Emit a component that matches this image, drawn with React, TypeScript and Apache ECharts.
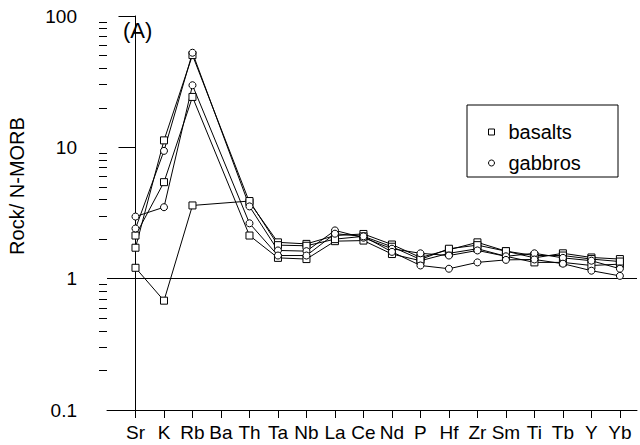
import React, { useEffect, useRef } from "react";
import * as echarts from "echarts";

// Trace elements along the spider diagram's x axis
const elements = ["Sr", "K", "Rb", "Ba", "Th", "Ta", "Nb", "La", "Ce", "Nd", "P", "Hf", "Zr", "Sm", "Ti", "Tb", "Y", "Yb"];

// Rock / N-MORB ratios (Ba not analysed -> null)
const basaltA = [1.72, 11.3, 50.4, null, 3.82, 1.89, 1.84, 2.13, 2.19, 1.82, 1.45, 1.66, 1.89, 1.62, 1.44, 1.56, 1.45, 1.41];
const basaltB = [2.13, 5.43, 24.2, null, 2.13, 1.44, 1.41, 1.93, 1.95, 1.54, 1.37, 1.56, 1.69, 1.48, 1.33, 1.33, 1.26, 1.29];
const basaltC = [1.21, 0.68, 3.61, null, 3.9, 1.8, 1.78, 2.0, 2.1, 1.75, 1.4, 1.69, 1.8, 1.62, 1.5, 1.5, 1.41, 1.35];
const gabbroA = [2.41, 9.4, 52.5, null, 3.55, 1.64, 1.62, 2.33, 2.05, 1.69, 1.56, 1.5, 1.64, 1.48, 1.56, 1.44, 1.37, 1.19];
const gabbroB = [2.97, 3.5, 29.7, null, 2.64, 1.5, 1.5, 2.2, 2.1, 1.6, 1.26, 1.19, 1.33, 1.39, 1.4, 1.3, 1.15, 1.05];

const majorTicks = [0.1, 1, 10, 100];
const minorTicks = [0.2, 0.3, 0.4, 0.5, 0.6, 0.7, 0.8, 0.9, 2, 3, 4, 5, 6, 7, 8, 9, 20, 30, 40, 50, 60, 70, 80, 90];
const elementIndices = [0, 1, 2, 3, 4, 5, 6, 7, 8, 9, 10, 11, 12, 13, 14, 15, 16, 17];

const FONT = "'Liberation Sans', Arial, Helvetica, sans-serif";

function toPoints(values: (number | null)[]) {
  const pts: [number, number][] = [];
  values.forEach((v, i) => {
    if (v != null) pts.push([i, v]);
  });
  return pts;
}

function makeSeries(name: string, values: (number | null)[], symbol: string, withRefLine = false): any {
  const s: any = {
    type: "line",
    name,
    data: toPoints(values),
    symbol,
    symbolSize: 7,
    showAllSymbol: true,
    lineStyle: { color: "#000", width: 1 },
    itemStyle: { color: "#fff", borderColor: "#000", borderWidth: 1 },
    emphasis: { disabled: true },
    z: 3,
  };
  if (withRefLine) {
    s.markLine = {
      silent: true,
      symbol: ["none", "none"],
      label: { show: false },
      lineStyle: { color: "#000", width: 1, type: "solid" },
      data: [{ yAxis: 1 }],
      z: 1,
    };
  }
  return s;
}

export default function App() {
  const ref = useRef<HTMLDivElement>(null);

  useEffect(() => {
    if (!ref.current) return;
    const chart = echarts.init(ref.current, undefined, { renderer: "svg" });
    chart.setOption({
      animation: false,
      backgroundColor: "#fff",
      grid: { left: 107, right: 3, top: 16, bottom: 35, containLabel: false },
      xAxis: {
        type: "value",
        min: -1,
        max: 17.6,
        interval: 1,
        axisLine: { show: true, lineStyle: { color: "#000", width: 1 } },
        axisTick: { show: true, inside: false, length: 8, customValues: elementIndices, lineStyle: { color: "#000" } },
        axisLabel: {
          customValues: elementIndices,
          formatter: (v: number) => elements[Math.round(v)] ?? "",
          color: "#000",
          fontSize: 19,
          fontFamily: FONT,
          margin: 13,
        },
        splitLine: { show: false },
      },
      yAxis: [
        {
          type: "log",
          logBase: 10,
          min: 0.1,
          max: 100,
          axisLine: { show: true, lineStyle: { color: "#000", width: 1 } },
          axisTick: { show: true, inside: false, length: 17, customValues: majorTicks, lineStyle: { color: "#000" } },
          axisLabel: {
            customValues: majorTicks,
            formatter: (v: number) => String(v),
            color: "#000",
            fontSize: 19,
            fontFamily: FONT,
            margin: 30,
          },
          splitLine: { show: false },
        },
        {
          type: "log",
          logBase: 10,
          min: 0.1,
          max: 100,
          position: "left",
          axisLine: { show: false },
          axisTick: { show: true, inside: false, length: 8, customValues: minorTicks, lineStyle: { color: "#000" } },
          axisLabel: { show: false },
          splitLine: { show: false },
        },
      ],
      legend: {
        orient: "vertical",
        left: 483,
        top: 117,
        itemWidth: 6,
        itemHeight: 6,
        itemGap: 11,
        selectedMode: false,
        data: [
          { name: "basalts", icon: "rect" },
          { name: "gabbros", icon: "circle" },
        ],
        itemStyle: { color: "#fff", borderColor: "#000", borderWidth: 1 },
        textStyle: { color: "#000", fontSize: 20, fontFamily: FONT, padding: [0, 0, 0, 9] },
      },
      graphic: [
        {
          type: "rect",
          shape: { x: 467, y: 105, width: 151, height: 72 },
          style: { fill: "none", stroke: "#000", lineWidth: 1 },
        },
        {
          type: "text",
          x: 123,
          y: 19,
          style: { text: "(A)", fontSize: 22, fontFamily: FONT, fill: "#000" },
        },
        {
          type: "text",
          x: 17,
          y: 186,
          rotation: Math.PI / 2,
          style: {
            text: "Rock/ N-MORB",
            fontSize: 20,
            fontFamily: FONT,
            fill: "#000",
            align: "center",
            verticalAlign: "middle",
          },
        },
      ],
      series: [
        makeSeries("basalts", basaltA, "rect", true),
        makeSeries("basalts", basaltB, "rect"),
        makeSeries("basalts", basaltC, "rect"),
        makeSeries("gabbros", gabbroA, "circle"),
        makeSeries("gabbros", gabbroB, "circle"),
      ],
    });
    return () => chart.dispose();
  }, []);

  return <div ref={ref} style={{ position: "fixed", left: 0, top: 0, width: 640, height: 445 }} />;
}
